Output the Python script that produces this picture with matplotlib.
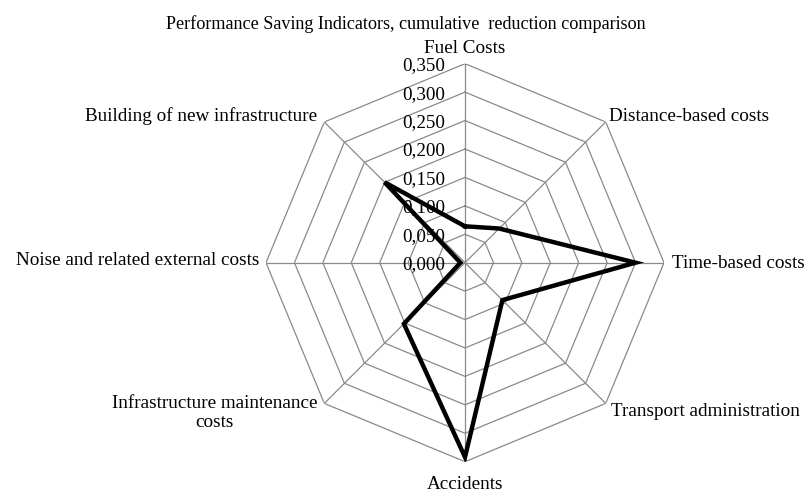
import numpy as np
import matplotlib
matplotlib.use("Agg")
import matplotlib.pyplot as plt

# data
categories = ["Fuel Costs", "Distance-based costs", "Time-based costs",
              "Transport administration", "Accidents",
              "Infrastructure maintenance\ncosts",
              "Noise and related external costs",
              "Building of new infrastructure"]
values = [0.064, 0.085, 0.300, 0.093, 0.342, 0.152, 0.008, 0.200]
ticks = [0.0, 0.05, 0.10, 0.15, 0.20, 0.25, 0.30, 0.35]
tick_labels = ["0,000", "0,050", "0,100", "0,150", "0,200", "0,250", "0,300", "0,350"]

plt.rcParams["font.family"] = ["Liberation Serif", "DejaVu Serif"]
FS = 13.8
GRID = "#8a8a8a"

n = len(categories)
theta = np.linspace(0, 2 * np.pi, n, endpoint=False)
theta_c = np.append(theta, theta[0])

fig = plt.figure(figsize=(8.08, 4.93), dpi=100)
ax = fig.add_axes([0.3292, 0.0635, 0.4926, 0.8073], projection="polar")
ax.set_theta_zero_location("N")
ax.set_theta_direction(-1)
ax.set_ylim(0, ticks[-1])
ax.grid(False)
ax.spines["polar"].set_visible(False)
ax.set_xticks([])
ax.set_yticks([])
ax.patch.set_visible(False)

# octagon rings and spokes
for t in ticks[1:]:
    ax.plot(theta_c, [t] * (n + 1), color=GRID, lw=0.9, zorder=1)
for th in theta:
    ax.plot([th, th], [0, ticks[-1]], color=GRID, lw=0.9, zorder=1)

# value labels along the top spoke
for t, lab in zip(ticks, tick_labels):
    ax.annotate(lab, xy=(0, t), xytext=(-14.5, -1.5), textcoords="offset points",
                ha="right", va="center", fontsize=FS, zorder=2)

# data line
ax.plot(theta_c, np.append(values, values[0]), color="black", lw=3.2,
        solid_joinstyle="miter", zorder=3)

# category labels
label_pos = [
    ((0, 11), "center", "center"),
    ((2.2, 4), "left", "center"),
    ((6, -0.5), "left", "center"),
    ((3.6, -5.8), "left", "center"),
    ((0, -16.5), "center", "center"),
    ((-5, -7), "right", "center"),
    ((-4.7, 1.5), "right", "center"),
    ((-4.8, 4), "right", "center"),
]
for th, lab, (off, ha, va) in zip(theta, categories, label_pos):
    ax.annotate(lab, xy=(th, ticks[-1]), xytext=off, textcoords="offset points",
                ha=ha, va=va, fontsize=FS, multialignment="center",
                linespacing=1.2, annotation_clip=False)

fig.text(0.502, 0.952, "Performance Saving Indicators, cumulative  reduction comparison",
         ha="center", va="center", fontsize=13.1)

fig.savefig("out.png", dpi=100)
